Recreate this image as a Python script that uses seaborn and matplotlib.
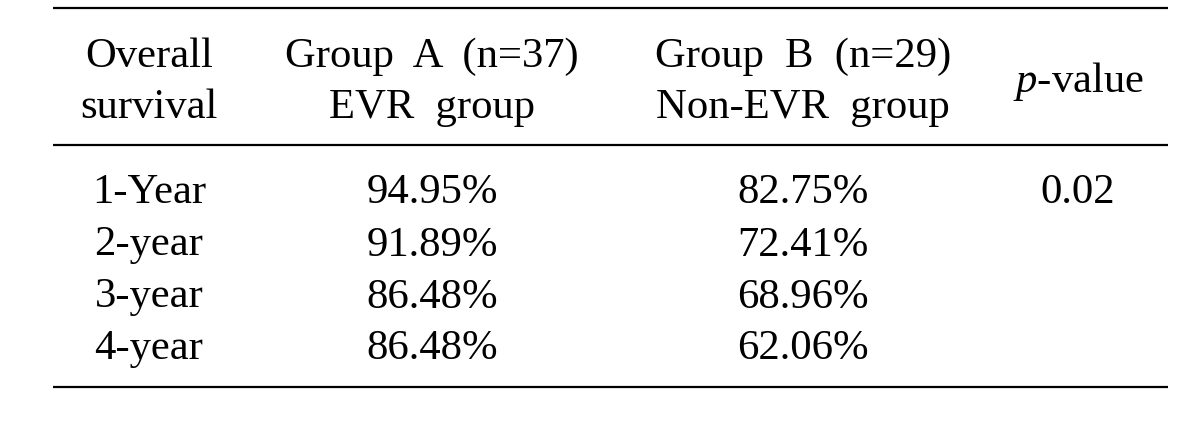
import matplotlib
matplotlib.use("Agg")
import matplotlib.pyplot as plt
import seaborn as sns

# table content
header_top = ["Overall", "Group  A  (n=37)", "Group  B  (n=29)"]
header_bottom = ["survival", "EVR  group", "Non-EVR  group"]
p_header = r"$\it{p}$-value"
periods = ["1-Year", "2-year", "3-year", "4-year"]
group_a = ["94.95%", "91.89%", "86.48%", "86.48%"]
group_b = ["82.75%", "72.41%", "68.96%", "62.06%"]
p_values = ["0.02", "", "", ""]

sns.set_style("white")
plt.rcParams['font.family'] = ['Liberation Serif', 'DejaVu Serif']
plt.rcParams['text.color'] = 'black'
plt.rcParams['mathtext.fontset'] = 'custom'
plt.rcParams['mathtext.rm'] = 'Liberation Serif'
plt.rcParams['mathtext.it'] = 'Liberation Serif:italic'

fig = plt.figure(figsize=(12, 4.28), dpi=100)
ax = fig.add_axes([0, 0, 1, 1])
ax.set_xlim(0, 1200)
ax.set_ylim(428, 0)
ax.axis("off")

col_x = [149, 432, 803, 1078]
fs = 30.7

# rules
for y in [8, 145, 387]:
    ax.hlines(y, 53, 1168, color="black", linewidth=1.6)

# header
for x, t1, t2 in zip(col_x[:3], header_top, header_bottom):
    ax.text(x, 67, t1, ha="center", va="baseline", fontsize=fs, color="black")
    ax.text(x, 118, t2, ha="center", va="baseline", fontsize=fs, color="black")
ax.text(col_x[3], 92, p_header, ha="center", va="baseline", fontsize=fs, color="black")

# body rows
row_y = [203, 255.5, 307.5, 359]
for i, y in enumerate(row_y):
    for x, val in zip(col_x, [periods[i], group_a[i], group_b[i], p_values[i]]):
        ax.text(x, y, val, ha="center", va="baseline", fontsize=fs, color="black")

plt.savefig("out.png", dpi=100)
